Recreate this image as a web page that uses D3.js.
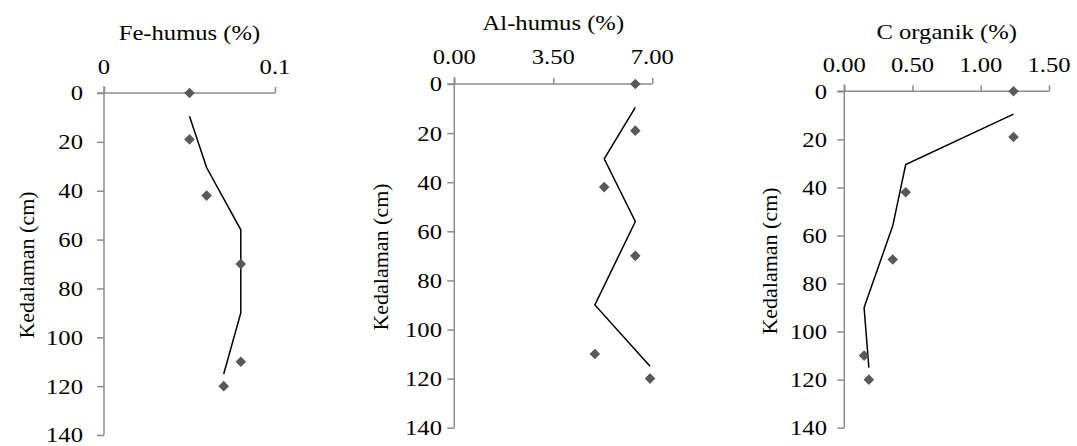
<!DOCTYPE html>
<html>
<head>
<meta charset="utf-8">
<script src="https://cdn.jsdelivr.net/npm/d3@7"></script>
<style>
	body { margin: 0; background: #fff; }
	text { font-family: 'Liberation Serif', 'Times New Roman', Times, 'DejaVu Serif', serif; }
</style>
</head>
<body>
<svg id="chart" width="1077" height="446"></svg>
<script>
// sample depths (cm)
const depths = [0, 19, 42, 70, 110, 120];

// measured values per depth
const feHumus = [0.05, 0.05, 0.06, 0.08, 0.08, 0.07];
const alHumus = [6.40, 6.40, 5.30, 6.40, 4.97, 6.92];
const cOrganik = [1.24, 1.24, 0.45, 0.355, 0.145, 0.18];

// axis labels
const feTicks = [0, 0.1];
const alTicks = [0, 3.5, 7];
const cTicks = [0, 0.5, 1, 1.5];
const depthTicks = [0, 20, 40, 60, 80, 100, 120, 140];

const titles = ['Fe-humus (%)', 'Al-humus (%)', 'C organik (%)'];
const depthTitle = 'Kedalaman (cm)';

const axisColor = '#8c8c8c',
	markerColor = '#595959',
	fontSize = '22px',
	stretch = 1.12; // source picture is a bit wider than tall

// Excel style 2-period moving average: depth averaged, value of later point kept
const movingAverage = values => values.slice(1).map((v, i) => ({
	value: v,
	depth: (depths[i] + depths[i + 1]) / 2
}));

const panels = [
	{values: feHumus, ticks: feTicks, max: 0.1, fmt: d3.format(''), title: titles[0],
		left: 104, right: 275, top: 93, bottom: 435, titleY: 40, tickY: 74, yLabelX: 83, yTitleX: 27, yTitleY: 265},
	{values: alHumus, ticks: alTicks, max: 7, fmt: d3.format('.2f'), title: titles[1],
		left: 454.3, right: 652.3, top: 84, bottom: 427.7, titleY: 30, tickY: 64, yLabelX: 442, yTitleX: 381, yTitleY: 257},
	{values: cOrganik, ticks: cTicks, max: 1.5, fmt: d3.format('.2f'), title: titles[2],
		left: 844.3, right: 1049, top: 91.3, bottom: 427.7, titleY: 39, tickY: 72, yLabelX: 827, yTitleX: 770, yTitleY: 261}
];

const svg = d3.select('#chart');

const place = (x, y) => `translate(${x},${y}) scale(${stretch},1)`;

panels.forEach(p => {
	const x = d3.scaleLinear().domain([0, p.max]).range([p.left, p.right]),
		y = d3.scaleLinear().domain([0, 140]).range([p.top, p.bottom]),
		g = svg.append('g');

	// top value axis
	const xAxis = g.append('g')
		.attr('transform', `translate(0,${p.top})`)
		.call(d3.axisTop(x).tickValues(p.ticks).tickFormat(() => '').tickSize(6).tickSizeOuter(0));
	xAxis.select('.domain').remove();
	xAxis.append('line')
		.attr('x1', p.left - 7).attr('x2', p.right);
	xAxis.selectAll('line')
		.attr('stroke', axisColor).attr('stroke-width', 1.5);

	g.selectAll('.xlab')
		.data(p.ticks)
		.enter()
		.append('text')
		.attr('transform', d => place(x(d), p.tickY))
		.attr('text-anchor', 'middle')
		.style('font-size', fontSize)
		.text(d => p.fmt(d));

	// left depth axis
	const yAxis = g.append('g')
		.attr('transform', `translate(${p.left},0)`)
		.call(d3.axisLeft(y).tickValues(depthTicks).tickFormat(() => '').tickSize(7).tickSizeOuter(0));
	yAxis.select('.domain').remove();
	yAxis.append('line')
		.attr('y1', p.top - 7).attr('y2', p.bottom);
	yAxis.selectAll('line')
		.attr('stroke', axisColor).attr('stroke-width', 1.5);

	g.selectAll('.ylab')
		.data(depthTicks)
		.enter()
		.append('text')
		.attr('transform', d => place(p.yLabelX, y(d)))
		.attr('dy', '0.34em')
		.attr('text-anchor', 'end')
		.style('font-size', fontSize)
		.text(d => d);

	// titles
	g.append('text')
		.attr('transform', place((p.left + p.right) / 2, p.titleY))
		.attr('text-anchor', 'middle')
		.style('font-size', fontSize)
		.text(p.title);

	g.append('text')
		.attr('transform', `translate(${p.yTitleX},${p.yTitleY}) rotate(-90)`)
		.attr('dy', '0.34em')
		.attr('text-anchor', 'middle')
		.style('font-size', fontSize)
		.text(depthTitle);

	// trend line
	g.append('path')
		.datum(movingAverage(p.values))
		.attr('fill', 'none')
		.attr('stroke', '#000')
		.attr('stroke-width', 1.5)
		.attr('d', d3.line().x(d => x(d.value)).y(d => y(d.depth)));

	// markers
	g.selectAll('.pt')
		.data(p.values)
		.enter()
		.append('path')
		.attr('d', d3.symbol(d3.symbolSquare, 56))
		.attr('transform', (d, i) => `translate(${x(d)},${y(depths[i])}) rotate(45)`)
		.attr('fill', markerColor);
});
</script>
</body>
</html>
